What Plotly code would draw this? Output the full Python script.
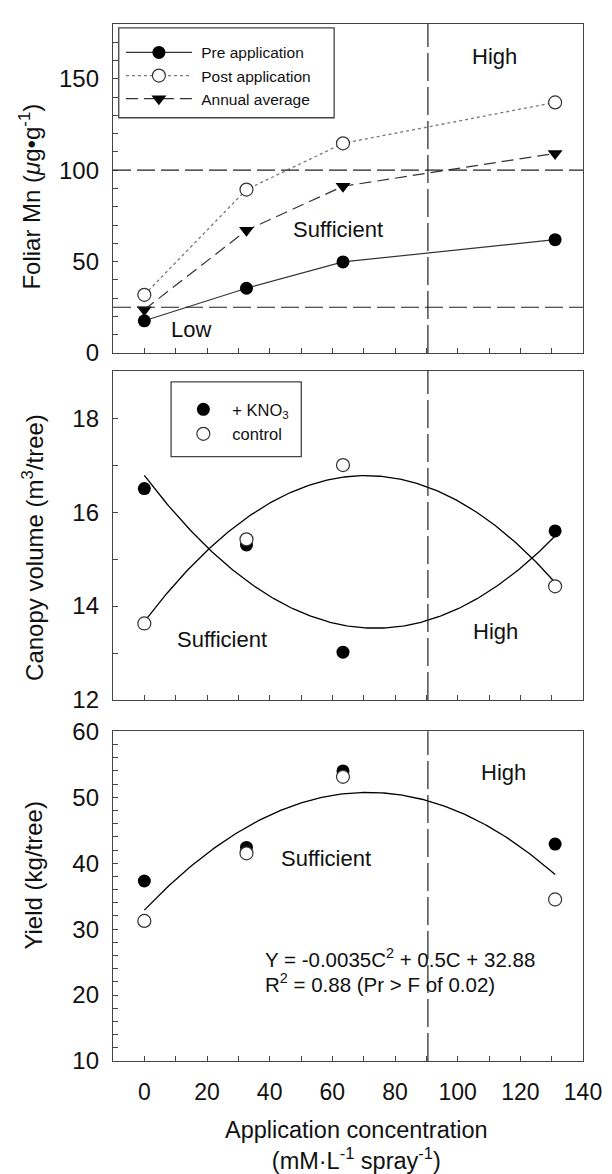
import numpy as np
import plotly.graph_objects as go

# ---------------- data ----------------
conc = [0, 32.6, 63.4, 131.1]

mn_pre = [17.6, 35.4, 49.8, 62.0]
mn_post = [31.8, 89.4, 114.7, 137.1]
mn_annual = [23.7, 67.1, 91.2, 109.2]

canopy_kno3 = [16.5, 15.3, 13.02, 15.6]
canopy_ctrl = [13.63, 15.42, 17.0, 14.42]

yield_kno3 = [37.3, 42.4, 54.0, 42.9]
yield_ctrl = [31.25, 41.5, 53.1, 34.5]

# quadratic fit coefficients (c2, c1, c0)
canopy_fit_kno3 = [0.000597, -0.0881, 16.78]
canopy_fit_ctrl = [-0.000622, 0.0879, 13.67]
yield_fit = [-0.0035, 0.5, 32.88]

mn_low_limit = 25
mn_high_limit = 100
conc_high_limit = 90.5

x_ticks = [0, 20, 40, 60, 80, 100, 120, 140]

# ---------------- styling ----------------
FONT = "Liberation Sans, Arial, sans-serif"
FRAME = "#444444"
W, H = 612, 1174
ML, MR, MT = 113, 24, 10
MB = H - 1060.7
PW = W - ML - MR
PH = H - MT - MB


def py(p):  # pixel from top -> paper y
    return (H - MB - p) / PH


def px(p):  # pixel from left -> paper x
    return (p - ML) / PW


fig = go.Figure()

# ---- top panel ----
fig.add_trace(go.Scatter(
    x=conc, y=mn_pre, mode="lines+markers", name="\u00a0Pre application",
    line=dict(color="#333333", width=1.2),
    marker=dict(symbol="circle", size=13, color="black"),
    xaxis="x", yaxis="y", legend="legend"))
fig.add_trace(go.Scatter(
    x=conc, y=mn_post, mode="lines+markers", name="\u00a0Post application",
    line=dict(color="#777777", width=1.3, dash="dot"),
    marker=dict(symbol="circle", size=13, color="white",
                line=dict(color="#333333", width=1.2)),
    xaxis="x", yaxis="y", legend="legend"))
fig.add_trace(go.Scatter(
    x=conc, y=mn_annual, mode="lines+markers", name="\u00a0Annual average",
    line=dict(color="#333333", width=1.2, dash="12px,6px"),
    marker=dict(symbol="triangle-down", size=13, color="black"),
    xaxis="x", yaxis="y", legend="legend"))

# ---- middle panel ----
xf = np.linspace(conc[0], conc[-1], 200)
fig.add_trace(go.Scatter(
    x=xf, y=np.polyval(canopy_fit_kno3, xf), mode="lines",
    line=dict(color="black", width=1.3), showlegend=False,
    xaxis="x2", yaxis="y2"))
fig.add_trace(go.Scatter(
    x=xf, y=np.polyval(canopy_fit_ctrl, xf), mode="lines",
    line=dict(color="black", width=1.3), showlegend=False,
    xaxis="x2", yaxis="y2"))
fig.add_trace(go.Scatter(
    x=conc, y=canopy_kno3, mode="markers", name="+ KNO<sub>3</sub>",
    marker=dict(symbol="circle", size=13, color="black"),
    xaxis="x2", yaxis="y2", legend="legend2"))
fig.add_trace(go.Scatter(
    x=conc, y=canopy_ctrl, mode="markers", name="control",
    marker=dict(symbol="circle", size=13, color="white",
                line=dict(color="#333333", width=1.2)),
    xaxis="x2", yaxis="y2", legend="legend2"))

# ---- bottom panel ----
fig.add_trace(go.Scatter(
    x=xf, y=np.polyval(yield_fit, xf), mode="lines",
    line=dict(color="black", width=1.3), showlegend=False,
    xaxis="x3", yaxis="y3"))
fig.add_trace(go.Scatter(
    x=conc, y=yield_kno3, mode="markers", showlegend=False,
    marker=dict(symbol="circle", size=13, color="black"),
    xaxis="x3", yaxis="y3"))
fig.add_trace(go.Scatter(
    x=conc, y=yield_ctrl, mode="markers", showlegend=False,
    marker=dict(symbol="circle", size=13, color="white",
                line=dict(color="#333333", width=1.2)),
    xaxis="x3", yaxis="y3"))

# ---------------- axes ----------------
def xax(anchor, labels):
    return dict(
        domain=[0, 1], anchor=anchor, range=[-10, 140],
        tickvals=x_ticks, ticks="inside", ticklen=5, tickwidth=1,
        tickcolor=FRAME, showticklabels=labels,
        tickfont=dict(size=23, color="#111111", family=FONT),
        ticklabelstandoff=10, ticklabeloverflow="allow",
        minor=dict(dtick=10, tick0=0, ticks="inside", ticklen=5,
                   tickcolor=FRAME, tickwidth=1),
        showline=True, mirror=True, linecolor=FRAME, linewidth=1.3,
        showgrid=False, zeroline=False)


def yax(anchor, dom, rng, dtick, mdtick):
    return dict(
        domain=dom, anchor=anchor, range=rng, dtick=dtick, tick0=0,
        ticks="inside", ticklen=5, tickwidth=1, tickcolor=FRAME,
        tickfont=dict(size=24, color="#111111", family=FONT),
        ticklabelstandoff=8,
        minor=dict(dtick=mdtick, tick0=0, ticks="inside", ticklen=5,
                   tickcolor=FRAME, tickwidth=1),
        showline=True, mirror=True, linecolor=FRAME, linewidth=1.3,
        showgrid=False, zeroline=False)


top_dom = [py(343.3), 1.0]
mid_dom = [py(695), py(361.7)]
bot_dom = [0, py(726.7)]

layout = dict(
    width=W, height=H,
    margin=dict(l=ML, r=MR, t=MT, b=MB, pad=0),
    paper_bgcolor="white", plot_bgcolor="white",
    font=dict(family=FONT, color="#111111"),
    xaxis=xax("y", False),
    xaxis2=xax("y2", False),
    xaxis3=xax("y3", True),
    yaxis=yax("x", top_dom, [0, 180], 50, 10),
    yaxis2=yax("x2", mid_dom, [12, 19], 2, 1),
    yaxis3=yax("x3", bot_dom, [10, 60], 10, 2),
    legend=dict(x=px(121), y=py(22), xanchor="left", yanchor="top",
                bgcolor="rgba(0,0,0,0)", borderwidth=0,
                font=dict(size=15.5, family=FONT, color="#111111"),
                itemwidth=66, tracegroupgap=0),
    legend2=dict(x=px(175), y=py(383), xanchor="left", yanchor="top",
                 bgcolor="rgba(0,0,0,0)", borderwidth=0,
                 font=dict(size=16.5, family=FONT, color="#111111"),
                 itemwidth=48, tracegroupgap=0),
    showlegend=True,
)
fig.update_layout(**layout)

# legend frames
fig.add_shape(type="rect", xref="paper", yref="paper",
              x0=px(118.8), x1=px(336.5), y0=py(105), y1=py(14),
              line=dict(color=FRAME, width=1.3))
fig.add_shape(type="rect", xref="paper", yref="paper",
              x0=px(171.7), x1=px(303.3), y0=py(448.3), y1=py(372.7),
              line=dict(color=FRAME, width=1.3))

# ---------------- reference lines ----------------
dash_h = "18px,6px"
dash_v = "28px,6px"
for yv in (mn_high_limit, mn_low_limit):
    fig.add_shape(type="line", xref="x domain", yref="y", x0=0, x1=1,
                  y0=yv, y1=yv, line=dict(color="#222222", width=1.2, dash=dash_h))
for xr, yr in (("x", "y domain"), ("x2", "y2 domain"), ("x3", "y3 domain")):
    fig.add_shape(type="line", xref=xr, yref=yr, x0=conc_high_limit,
                  x1=conc_high_limit, y0=0, y1=1,
                  line=dict(color="#222222", width=1.2, dash=dash_v))

# ---------------- text ----------------
def note(text, x, y, xr, yr, size=22, xanchor="center"):
    fig.add_annotation(text=text, x=x, y=y, xref=xr, yref=yr, showarrow=False,
                       xanchor=xanchor, yanchor="middle",
                       font=dict(size=size, family=FONT, color="#111111"))


note("High", 111.6, 162, "x", "y")
note("Sufficient", 61.8, 67.8, "x", "y")
note("Low", 14.9, 12.9, "x", "y")
note("Sufficient", 24.8, 13.28, "x2", "y2")
note("High", 112, 13.46, "x2", "y2")
note("High", 114.6, 53.8, "x3", "y3")
note("Sufficient", 58, 40.75, "x3", "y3")
note("Y = -0.0035C<sup>2</sup> + 0.5C + 32.88", 37.8, 25.6, "x3", "y3",
     size=20.5, xanchor="left")
note("R<sup>2</sup> = 0.88 (Pr > F of 0.02)", 37.8, 21.8, "x3", "y3",
     size=20.5, xanchor="left")

# axis titles
def ytitle(text, xpix, ypix):
    fig.add_annotation(text=text, x=px(xpix), y=py(ypix), xref="paper",
                       yref="paper", showarrow=False, textangle=-90,
                       xanchor="center", yanchor="middle",
                       font=dict(size=24, family=FONT, color="#111111"))


ytitle("Foliar Mn (<i>μ</i>g•g<sup>-1</sup>)", 29, 185)
ytitle("Canopy volume (m<sup>3</sup>/tree)", 32, 540)
ytitle("Yield (kg/tree)", 33, 872)

fig.add_annotation(text="Application concentration<br>(mM·L<sup>-1</sup> spray<sup>-1</sup>)",
                   x=px(359), y=py(1146), xref="paper", yref="paper",
                   showarrow=False, xanchor="center", yanchor="middle",
                   font=dict(size=23.5, family=FONT, color="#111111"))

# the page's default body margin would push the 612x1174 figure out of view
page_fix = ("document.body.style.margin='0';"
            "document.documentElement.style.overflow='hidden';"
            "document.body.style.overflow='hidden';")

fig.write_html("out.html", post_script=page_fix,
               config={"displayModeBar": False})
